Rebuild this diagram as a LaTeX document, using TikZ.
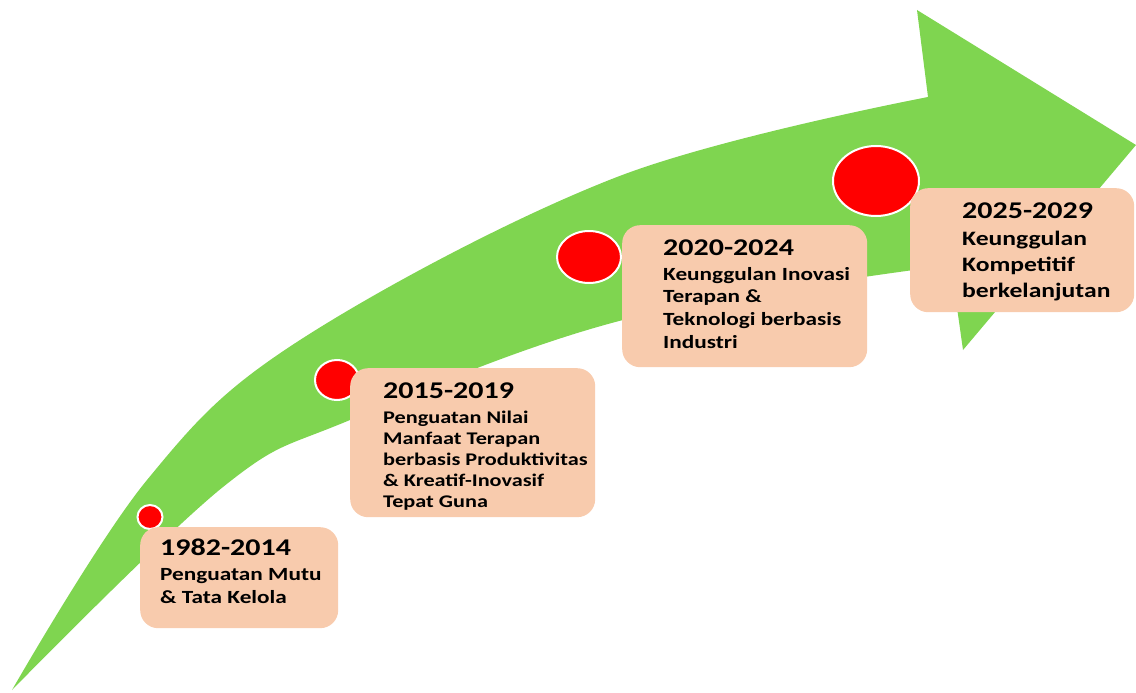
\documentclass[tikz,border=0pt]{standalone}
\usepackage{fontspec}
\usetikzlibrary{shapes.geometric}
\newfontfamily\boxfont[FakeStretch=1.25]{Carlito}
\definecolor{arrowgreen}{HTML}{7FD550}
\definecolor{peach}{HTML}{F8CBAD}
\definecolor{dotred}{HTML}{FF0000}
\newcommand{\yr}[1]{{\fontsize{24}{24}\selectfont #1}}
\tikzset{
  dot/.style={ellipse, fill=dotred, draw=white, line width=2pt, inner sep=0pt},
  stagebox/.style={rectangle, rounded corners=18pt, fill=peach, anchor=north west, inner sep=0pt},
  stagetext/.style={anchor=base west, inner sep=0pt, align=left, font=\boxfont\bfseries}
}
\begin{document}
\begin{tikzpicture}[x=1pt, y=-1pt]
\useasboundingbox (0,0) rectangle (1136,693);
% big curved arrow
\fill[arrowgreen] plot[smooth, tension=0.6] coordinates {(12,690) (147,480) (300,340) (617,177) (928,97)}
  -- (917,10) -- (1136,145) -- (963,350) -- (951,265)
  -- plot[smooth, tension=0.6] coordinates {(951,265) (623,320) (350,420) (223,487) (12,690)} -- cycle;
% dots
\node[dot, minimum width=25pt, minimum height=24pt] (c1) at (150,517) {};
\node[dot, minimum width=44pt, minimum height=40pt] (c2) at (337,380) {};
\node[dot, minimum width=64pt, minimum height=52pt] (c3) at (589,257) {};
\node[dot, minimum width=86pt, minimum height=70pt] (c4) at (876,181) {};
% boxes
\node[stagebox, minimum width=198pt, minimum height=101pt] (b1) at (140,527) {};
\node[stagebox, minimum width=245pt, minimum height=149pt] (b2) at (350,368) {};
\node[stagebox, minimum width=245pt, minimum height=142pt] (b3) at (622,225) {};
\node[stagebox, minimum width=224pt, minimum height=124pt] (b4) at (910,188) {};
% texts
\node[stagetext] (t1) at (160,555) {\fontsize{18.6}{23}\selectfont\begin{tabular}[t]{@{}l@{}}\yr{1982-2014}\\[2pt]Penguatan Mutu\\ \& Tata Kelola\end{tabular}};
\node[stagetext] (t2) at (383,398) {\fontsize{17.8}{21}\selectfont\begin{tabular}[t]{@{}l@{}}\yr{2015-2019}\\[4pt]Penguatan Nilai\\ Manfaat Terapan\\ berbasis Produktivitas\\ \& Kreatif-Inovasif\\ Tepat Guna\end{tabular}};
\node[stagetext] (t3) at (663,255) {\fontsize{18.6}{22.7}\selectfont\begin{tabular}[t]{@{}l@{}}\yr{2020-2024}\\[2.3pt]Keunggulan Inovasi\\ Terapan \&\\ Teknologi berbasis\\ Industri\end{tabular}};
\node[stagetext] (t4) at (962,218) {\fontsize{20.5}{26}\selectfont\begin{tabular}[t]{@{}l@{}}\yr{2025-2029}\\[1pt]Keunggulan\\ Kompetitif\\ berkelanjutan\end{tabular}};
\end{tikzpicture}
\end{document}
